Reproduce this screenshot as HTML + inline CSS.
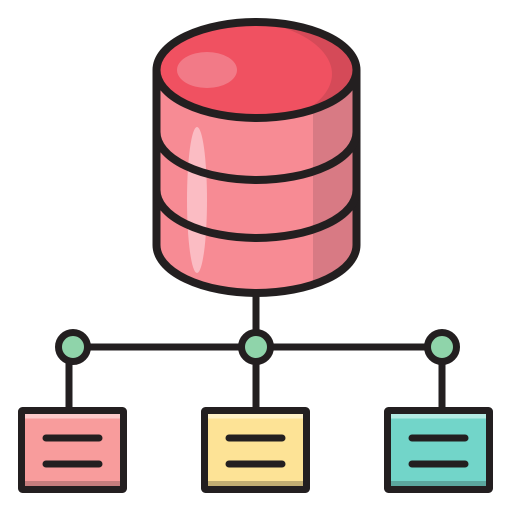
<!DOCTYPE html>
<html><head><style>html,body{margin:0;padding:0;background:#fff}</style></head><body>
<svg width="512" height="512" viewBox="0 0 512 512" xmlns="http://www.w3.org/2000/svg">
<defs>
<clipPath id="body"><path d="M156.5 70 L156.5 245 A100 48 0 0 0 356.5 245 L356.5 70 Z"/></clipPath>
<clipPath id="top"><ellipse cx="256.5" cy="70" rx="100" ry="48"/></clipPath>
</defs>
<g stroke="#231f20" stroke-width="7" stroke-linecap="round">
<line x1="256" y1="290" x2="256" y2="347"/>
<line x1="73" y1="347" x2="442" y2="347"/>
<line x1="69" y1="347" x2="69" y2="410"/>
<line x1="256" y1="347" x2="256" y2="410"/>
<line x1="442" y1="347" x2="442" y2="410"/>
</g>
<path d="M156.5 70 L156.5 245 A100 48 0 0 0 356.5 245 L356.5 70 Z" fill="#f78b94"/>
<g clip-path="url(#body)">
<rect x="313" y="60" width="50" height="250" fill="#d87a84"/>
</g>
<ellipse cx="197" cy="200" rx="10" ry="73" fill="#fbbcc3"/>
<ellipse cx="256.5" cy="70" rx="100" ry="48" fill="#d54a58"/>
<g clip-path="url(#top)"><ellipse cx="222" cy="74" rx="110" ry="56" fill="#f05161"/></g>
<ellipse cx="207" cy="70" rx="30" ry="18" fill="#f27a87"/>
<g fill="none" stroke="#231f20" stroke-width="8">
<ellipse cx="256.5" cy="70" rx="100" ry="48"/>
<path d="M156.5 70 L156.5 245 A100 48 0 0 0 356.5 245 L356.5 70"/>
<path d="M156.5 132 A100 48 0 0 0 356.5 132"/>
<path d="M156.5 190 A100 48 0 0 0 356.5 190"/>
</g>
<g fill="#8fd4aa" stroke="#231f20" stroke-width="7">
<circle cx="73" cy="347" r="14.5"/>
<circle cx="256" cy="347" r="14.5"/>
<circle cx="442" cy="347" r="14.5"/>
</g>
<g>
<rect x="21.5" y="410.5" width="102" height="79" fill="#f89c9c"/>
<rect x="21.5" y="410.5" width="102" height="8" fill="#fdcaca"/>
<rect x="21.5" y="481" width="102" height="8" fill="#c57d7d"/>
<rect x="204.5" y="410.5" width="102" height="79" fill="#fde396"/>
<rect x="204.5" y="410.5" width="102" height="8" fill="#fef0c6"/>
<rect x="204.5" y="481" width="102" height="8" fill="#c2ad72"/>
<rect x="387.5" y="410.5" width="102" height="79" fill="#72d5c9"/>
<rect x="387.5" y="410.5" width="102" height="8" fill="#b4ebe3"/>
<rect x="387.5" y="481" width="102" height="8" fill="#5ba79e"/>
</g>
<g fill="none" stroke="#231f20" stroke-width="7" stroke-linejoin="round">
<rect x="21.5" y="410.5" width="102" height="79" rx="1"/>
<rect x="204.5" y="410.5" width="102" height="79" rx="1"/>
<rect x="387.5" y="410.5" width="102" height="79" rx="1"/>
</g>
<g stroke="#231f20" stroke-width="7" stroke-linecap="round">
<line x1="46" y1="438" x2="99" y2="438"/><line x1="46" y1="464" x2="99" y2="464"/>
<line x1="229" y1="438" x2="282" y2="438"/><line x1="229" y1="464" x2="282" y2="464"/>
<line x1="412" y1="438" x2="465" y2="438"/><line x1="412" y1="464" x2="465" y2="464"/>
</g>
</svg>
</body></html>
